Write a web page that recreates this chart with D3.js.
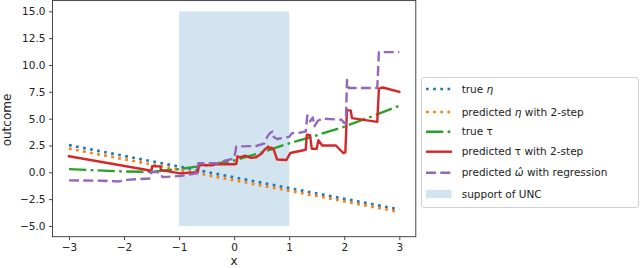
<!DOCTYPE html>
<html><head><meta charset="utf-8">
<script src="https://cdn.jsdelivr.net/npm/d3@7"></script>
<style>
html,body{margin:0;padding:0;background:#fff;}
text{font-family:"DejaVu Sans",sans-serif;}
</style></head>
<body><svg id="c" width="640" height="268"></svg>
<script>
// ---- data ----
const xTicks = [-3, -2, -1, 0, 1, 2, 3];
const yTicks = [-5, -2.5, 0, 2.5, 5, 7.5, 10, 12.5, 15];
const gridX = [-3, -2.5, -2, -1.5, -1, -0.5, 0, 0.5, 1, 1.5, 2, 2.5, 3];
const trueEta = [2.53, 2.03, 1.53, 1.03, 0.53, 0.03, -0.47, -0.97, -1.47, -1.97, -2.47, -2.97, -3.47];
const predEta = [2.2, 1.71, 1.22, 0.73, 0.24, -0.25, -0.74, -1.23, -1.72, -2.21, -2.7, -3.2, -3.7];
const trueTau = [0.3, 0.18, 0.08, 0.05, 0.3, 0.65, 1.1, 1.85, 2.7, 3.45, 4.25, 5.2, 6.2];
const predTauX = [-3.0, -1.5, -1.49, -1.34, -1.33, -0.98, -0.66, -0.64, -0.4, -0.35, 0.0, 0.04, 0.06, 0.1, 0.2, 0.3, 0.4, 0.5, 0.55, 0.62, 0.65, 0.68, 0.72, 0.78, 0.95, 1.02, 1.3, 1.32, 1.38, 1.41, 1.5, 1.53, 1.6, 1.85, 1.98, 2.02, 2.05, 2.12, 2.14, 2.6, 2.63, 2.7, 3.0];
const predTau  = [1.5, 0.15, 0.58, 0.55, 0.2, -0.1, 0.0, 0.7, 0.65, 0.75, 0.75, 0.8, 1.5, 1.4, 1.55, 1.35, 1.4, 1.75, 2.1, 2.4, 2.2, 2.3, 2.1, 1.2, 1.15, 1.8, 2.1, 3.5, 3.45, 2.2, 2.2, 3.0, 2.5, 2.5, 1.8, 1.85, 5.8, 5.75, 5.05, 4.7, 7.8, 7.9, 7.5];
const predOmegaX = [-3.0, -2.4, -2.1, -1.9, -1.52, -1.5, -1.35, -1.3, -1.0, -0.68, -0.65, -0.3, -0.15, 0.0, 0.04, 0.4, 0.55, 0.6, 0.65, 0.7, 0.72, 0.78, 1.0, 1.05, 1.2, 1.3, 1.33, 1.38, 1.43, 1.46, 1.52, 1.6, 1.95, 2.0, 2.03, 2.05, 2.08, 2.6, 2.63, 3.0];
const predOmega  = [-0.75, -0.78, -0.85, -0.68, -0.58, 0.05, 0.0, -0.45, -0.35, -0.1, 0.85, 0.85, 1.1, 1.3, 2.4, 2.45, 2.7, 3.3, 3.65, 3.8, 3.3, 3.1, 3.3, 3.65, 3.7, 3.8, 5.3, 4.75, 5.1, 4.3, 4.8, 5.0, 4.9, 4.6, 4.6, 8.6, 7.85, 7.85, 11.2, 11.2];
const uncX = [-1, 1];
const uncY = [-5, 15];
const xDomain = [-3.3, 3.3];
const yDomain = [-6, 16];

// ---- layout ----
const L = 52.5, R = 415.8, T = 0.6, B = 236.7;
const svg = d3.select("#c");
const x = d3.scaleLinear().domain(xDomain).range([L, R]);
const y = d3.scaleLinear().domain(yDomain).range([B, T]);
const FS = 10.5;
const LFS = 12;

const colors = {blue:"#1f77b4", orange:"#ff7f0e", green:"#2ca02c", red:"#d62728", purple:"#9467bd"};
const LW = 2.4;
const DW = 2.7;
const dotted = `${1*DW},${1.65*DW}`;
const dashed = `${3.7*DW},${1.6*DW}`;
const dashdot = `${6.4*DW},${1.6*DW},${1*DW},${1.6*DW}`;

const plot = svg.append("g");
plot.append("clipPath").attr("id","clip").append("rect").attr("x",L).attr("y",T).attr("width",R-L).attr("height",B-T);
const g = plot.append("g").attr("clip-path","url(#clip)");

// shaded support
g.append("rect")
  .attr("x", x(uncX[0])).attr("width", x(uncX[1]) - x(uncX[0]))
  .attr("y", y(uncY[1])).attr("height", y(uncY[0]) - y(uncY[1]))
  .attr("fill", colors.blue).attr("fill-opacity", 0.2);

const line = d3.line().x(d => x(d[0])).y(d => y(d[1]));
function draw(xs, ys, color, dash, w, cap) {
  g.append("path").datum(xs.map((v,i)=>[v, ys[i]]))
    .attr("d", line).attr("fill","none").attr("stroke", color)
    .attr("stroke-width", w).attr("stroke-dasharray", dash)
    .attr("stroke-linecap", cap || "butt").attr("stroke-linejoin","round");
}
draw(gridX, trueEta, colors.blue, dotted, DW);
draw(gridX, predEta, colors.orange, dotted, DW);
draw(gridX, trueTau, colors.green, dashdot, LW);
draw(predTauX, predTau, colors.red, null, LW, "square");
draw(predOmegaX, predOmega, colors.purple, dashed, LW);

// axes
const ax = svg.append("g").attr("transform", `translate(0,${B})`)
  .call(d3.axisBottom(x).tickValues(xTicks).tickFormat(d3.format("d")).tickSize(3.5).tickPadding(3));
const ay = svg.append("g").attr("transform", `translate(${L},0)`)
  .call(d3.axisLeft(y).tickValues(yTicks).tickFormat(d3.format(".1f")).tickSize(3.5).tickPadding(3.5));
[ax, ay].forEach(a => {
  a.select(".domain").remove();
  a.selectAll(".tick line").attr("stroke", "#333").attr("stroke-width", 0.9);
  a.selectAll(".tick text").attr("fill", "#222").style("font-size", FS + "px").style("font-family", "DejaVu Sans");
});

// frame
svg.append("rect").attr("x", L).attr("y", T).attr("width", R - L).attr("height", B - T)
  .attr("fill", "none").attr("stroke", "#333").attr("stroke-width", 0.9);

// axis labels
svg.append("text").attr("x", (L + R) / 2).attr("y", 265).attr("text-anchor", "middle")
  .style("font-size", LFS + "px").attr("fill", "#222").text("x");
svg.append("text").attr("transform", `translate(11,120) rotate(-90)`).attr("text-anchor", "middle")
  .style("font-size", LFS + "px").attr("fill", "#222").text("outcome");

// legend
const lg = svg.append("g");
lg.append("rect").attr("x", 421.5).attr("y", 77.5).attr("width", 217).attr("height", 130)
  .attr("rx", 2.5).attr("fill", "#fff").attr("fill-opacity", 0.8).attr("stroke", "#cccccc").attr("stroke-width", 0.9);
const entries = [
  {cy: 89,    color: colors.blue,   dash: dotted,  w: DW, parts: [["true ", false], ["η", true]]},
  {cy: 112,   color: colors.orange, dash: dotted,  w: DW, parts: [["predicted ", false], ["η", true], [" with 2-step", false]]},
  {cy: 131.7, color: colors.green,  dash: dashdot, w: LW, parts: [["true τ", false]]},
  {cy: 151.7, color: colors.red,    dash: null,    w: LW, parts: [["predicted τ with 2-step", false]]},
  {cy: 172.7, color: colors.purple, dash: dashed,  w: LW, parts: [["predicted ", false], ["ω\u0302", true], [" with regression", false]]},
  {cy: 194,   patch: true,                         parts: [["support of UNC", false]]}
];
entries.forEach(e => {
  if (e.patch) {
    lg.append("rect").attr("x", 426).attr("y", e.cy - 4.2).attr("width", 25.5).attr("height", 8.4)
      .attr("fill", colors.blue).attr("fill-opacity", 0.2);
  } else {
    lg.append("line").attr("x1", 426).attr("x2", 452).attr("y1", e.cy).attr("y2", e.cy)
      .attr("stroke", e.color).attr("stroke-width", e.w).attr("stroke-dasharray", e.dash);
  }
  const t = lg.append("text").attr("x", 461.7).attr("y", e.cy).attr("dy", "0.36em")
    .style("font-size", FS + "px").attr("fill", "#222");
  e.parts.forEach(p => t.append("tspan").style("font-style", p[1] ? "italic" : "normal").text(p[0]));
});
</script></body></html>
